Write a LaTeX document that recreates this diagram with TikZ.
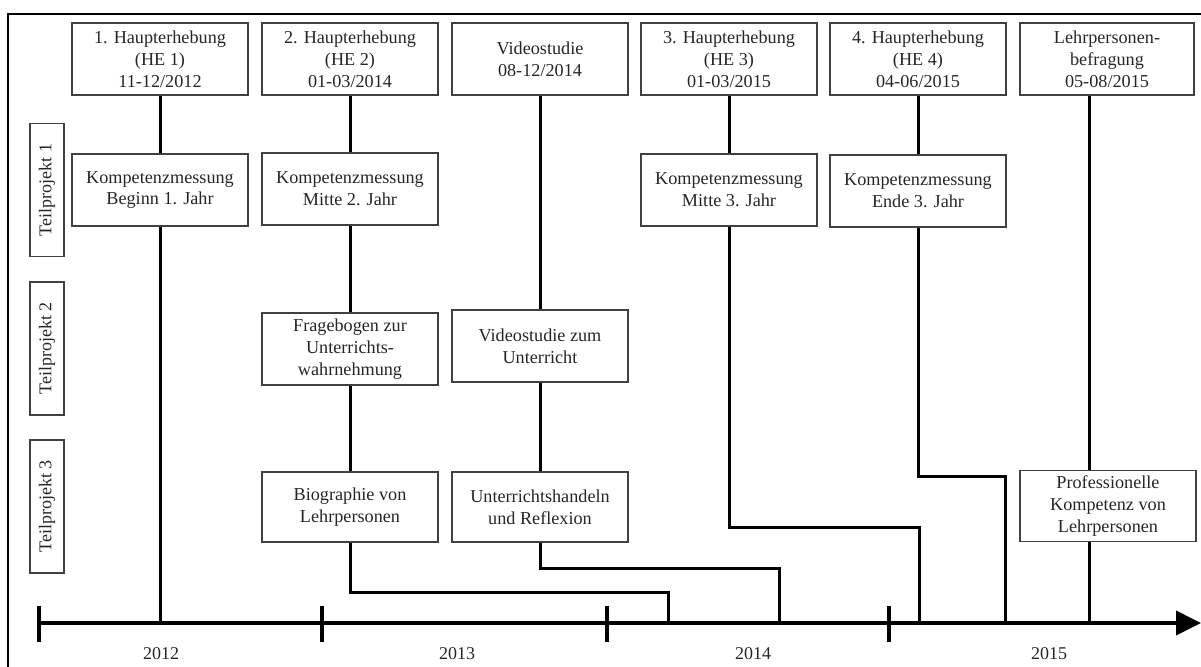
\documentclass[tikz,border=0pt]{standalone}
\usepackage{fontspec}
\setmainfont{Liberation Serif}
\usetikzlibrary{arrows.meta}
\begin{document}
\begin{tikzpicture}[x=0.5pt,y=-0.5pt,
  box/.style={draw=black!75, line width=0.7pt, rectangle, inner sep=0pt,
    minimum width=88pt, minimum height=36pt, align=center,
    font=\fontsize{9.1}{10.9}\selectfont, text=black!85},
  tpbox/.style={draw=black!75, line width=0.7pt, rectangle, inner sep=0pt,
    minimum width=66.5pt, minimum height=17pt, rotate=90,
    font=\fontsize{9}{10.8}\selectfont, text=black!85},
  conn/.style={line width=1.5pt, black, line join=miter},
  tick/.style={line width=2pt, black},
  yearlbl/.style={font=\fontsize{9}{10.8}\selectfont, text=black!85, inner sep=0pt}
]
\useasboundingbox (0,0) rectangle (1201,666);
% frame (right and bottom edges lie outside the picture)
\draw[line width=1pt] (8,14) rectangle (1215,690);

% top row
\node[box] (h1) at (160,59) {1. Haupterhebung\\(HE 1)\\11-12/2012};
\node[box] (h2) at (350,59) {2. Haupterhebung\\(HE 2)\\01-03/2014};
\node[box] (vs) at (540,59) {Videostudie\\08-12/2014};
\node[box] (h3) at (729,59) {3. Haupterhebung\\(HE 3)\\01-03/2015};
\node[box] (h4) at (918,59) {4. Haupterhebung\\(HE 4)\\04-06/2015};
\node[box, minimum width=87pt] (lp) at (1107,59) {Lehrpersonen-\\befragung\\05-08/2015};

% Teilprojekt labels
\node[tpbox] (t1) at (47,190) {Teilprojekt 1};
\node[tpbox] (t2) at (47,348.5) {Teilprojekt 2};
\node[tpbox] (t3) at (47,506.5) {Teilprojekt 3};

% row 1
\node[box] (k1) at (160,190) {Kompetenzmessung\\Beginn 1. Jahr};
\node[box] (k2) at (350,189) {Kompetenzmessung\\Mitte 2. Jahr};
\node[box] (k3) at (729,190) {Kompetenzmessung\\Mitte 3. Jahr};
\node[box] (k4) at (918,191) {Kompetenzmessung\\Ende 3. Jahr};

% row 2
\node[box] (fb) at (350,349) {Fragebogen zur\\Unterrichts-\\wahrnehmung};
\node[box] (vu) at (540,346) {Videostudie zum\\Unterricht};

% row 3
\node[box, minimum height=35pt] (bio) at (350,507) {Biographie von\\Lehrpersonen};
\node[box, minimum height=35pt] (uh) at (540,507) {Unterrichtshandeln\\und Reflexion};
\node[box, minimum height=35.5pt] (pk) at (1108,506) {Professionelle\\Kompetenz von\\Lehrpersonen};

% axis points
\coordinate (a0) at (39,623);
\coordinate (a1) at (160,623);
\coordinate (a2) at (668,623);
\coordinate (a3) at (779,623);
\coordinate (a4) at (919,623);
\coordinate (a5) at (1005,623);
\coordinate (a6) at (1089,623);
\coordinate (aend) at (1201,623);

% connectors
\draw[conn] (h1.south) -- (k1.north);
\draw[conn] (k1.south) -- (a1);

\draw[conn] (h2.south) -- (k2.north);
\draw[conn] (k2.south) -- (fb.north);
\draw[conn] (fb.south) -- (bio.north);
\draw[conn] (bio.south) -- (350,592) -| (a2);

\draw[conn] (vs.south) -- (vu.north);
\draw[conn] (vu.south) -- (uh.north);
\draw[conn] (uh.south) -- (540,568) -| (a3);

\draw[conn] (h3.south) -- (k3.north);
\draw[conn] (k3.south) -- (729,527) -| (a4);

\draw[conn] (h4.south) -- (k4.north);
\draw[conn] (k4.south) -- (918,476) -| (a5);

\draw[conn] (lp.south -| a6) -- (pk.north -| a6);
\draw[conn] (pk.south -| a6) -- (a6);

% time axis
\draw[line width=2pt, -{Triangle[length=12.5pt,width=12pt]}] (a0) -- (aend);
\draw[tick] (39,606) -- (39,642);
\draw[tick] (322,606) -- (322,642);
\draw[tick] (607,606) -- (607,642);
\draw[tick] (889,606) -- (889,642);

\node[yearlbl] (y12) at (161,654) {2012};
\node[yearlbl] (y13) at (457,654) {2013};
\node[yearlbl] (y14) at (753,654) {2014};
\node[yearlbl] (y15) at (1049,654) {2015};
\end{tikzpicture}
\end{document}
